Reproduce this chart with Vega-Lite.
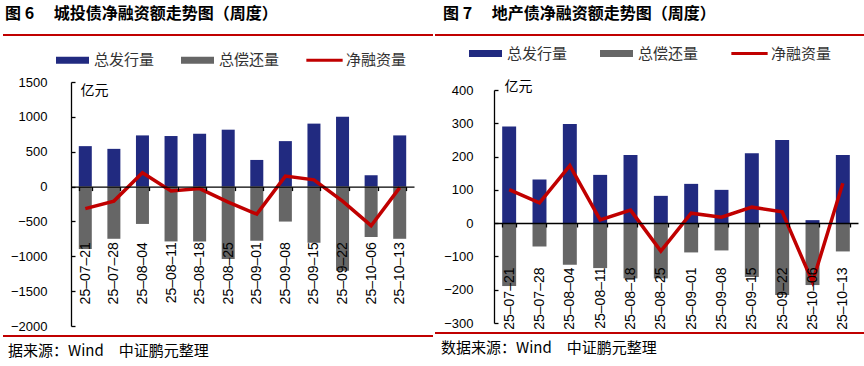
{
  "$schema": "https://vega.github.io/schema/vega-lite/v6.json",
  "padding": {"left": 2, "top": 6, "right": 2, "bottom": 0},
  "background": "#ffffff",
  "config": {
    "view": {"stroke": null},
    "font": "Liberation Sans",
    "axis": {"grid": false, "domainColor": "#000000", "tickColor": "#000000", "labelColor": "#000000", "domainWidth": 1.3, "tickWidth": 1.3},
    "axisY": {"labelOverlap": false, "labelBound": false, "labelFontSize": 13, "ticks": true, "tickSize": -4}
  },
  "spacing": 0,
  "resolve": {"scale": {"x": "independent", "y": "independent", "color": "independent"}, "legend": {"color": "independent"}},
  "hconcat": [
    {
      "spacing": 7,
      "resolve": {"scale": {"x": "independent", "y": "independent", "color": "independent"}, "legend": {"color": "independent"}},
      "vconcat": [
        {
          "width": 430, "height": 1,
          "data": {"values": [{}]},
          "title": {"text": "图 6\u3000 城投债净融资额走势图（周度）", "anchor": "start", "font": "Noto Sans CJK SC", "fontSize": 16, "fontWeight": "bold", "color": "#000000", "offset": 12, "dx": 3},
          "mark": {"type": "rule", "color": "#C00000", "strokeWidth": 2},
          "encoding": {"y": {"datum": 0, "type": "quantitative", "scale": {"domain": [0, 1]}, "axis": null}}
        },
        {
          "spacing": 2,
          "resolve": {"scale": {"x": "independent", "y": "independent", "color": "independent"}, "legend": {"color": "independent"}},
          "vconcat": [
            {
              "spacing": 0,
              "resolve": {"scale": {"x": "independent", "y": "independent", "color": "independent"}, "legend": {"color": "independent"}},
              "hconcat": [
                {
                  "width": 7, "height": 1,
                  "data": {"values": []},
                  "mark": "rule",
                  "encoding": {}
                },
                {
                  "width": 343, "height": 244,
                  "data": {"values": [
                    {"date": "25–07–21", "issue": 580, "repay": -896, "net": -316},
                    {"date": "25–07–28", "issue": 541, "repay": -749, "net": -208},
                    {"date": "25–08–04", "issue": 734, "repay": -536, "net": 198},
                    {"date": "25–08–11", "issue": 725, "repay": -787, "net": -62},
                    {"date": "25–08–18", "issue": 758, "repay": -787, "net": -29},
                    {"date": "25–08–25", "issue": 816, "repay": -1038, "net": -222},
                    {"date": "25–09–01", "issue": 382, "repay": -777, "net": -395},
                    {"date": "25–09–08", "issue": 652, "repay": -502, "net": 150},
                    {"date": "25–09–15", "issue": 903, "repay": -806, "net": 97},
                    {"date": "25–09–22", "issue": 1000, "repay": -1209, "net": -209},
                    {"date": "25–10–06", "issue": 164, "repay": -725, "net": -561},
                    {"date": "25–10–13", "issue": 734, "repay": -749, "net": -15}
                  ]},
                  "encoding": {
                    "x": {"field": "date", "type": "ordinal", "sort": null,
                      "scale": {"paddingInner": 0.545, "paddingOuter": 0.2725},
                      "axis": {"title": null, "offset": -139.4, "zindex": 1, "labelAngle": 270, "labelFontSize": 14, "labelPadding": 51, "tickSize": 4, "tickBand": "extent"}}
                  },
                  "layer": [
                    {
                      "mark": {"type": "bar"},
                      "encoding": {
                        "y": {"field": "issue", "type": "quantitative",
                          "scale": {"domain": [-2000, 1500], "nice": false},
                          "axis": {"values": [-2000, -1500, -1000, -500, 0, 500, 1000, 1500], "format": "d", "labelOverlap": false, "labelPadding": 28,
                            "title": "亿元", "titleAngle": 0, "titleAlign": "left", "titleBaseline": "top", "titleX": 9, "titleY": 1, "titleFont": "Noto Sans CJK SC", "titleFontSize": 14, "titleFontWeight": "normal", "titleColor": "#000000"}},
                        "color": {"datum": "总发行量",
                          "scale": {"domain": ["总发行量", "总偿还量", "净融资量"], "range": ["#212A80", "#666666", "#C00000"]},
                          "legend": {"orient": "none", "legendX": -15, "legendY": -38.5, "direction": "horizontal", "title": null, "padding": 0,
                            "symbolSize": 1089, "symbolStrokeWidth": 0, "labelFont": "Noto Sans CJK SC", "labelFontSize": 15, "labelColor": "#333333", "labelOffset": 5, "columnPadding": 26,
                            "encode": {"symbols": {"update": {"shape": {"signal": "datum.value === '净融资量' ? 'M-1.1,-0.09H1.1V0.09H-1.1Z' : 'M-1,-0.21H1V0.21H-1Z'"}}}}}}
                      }
                    },
                    {
                      "mark": {"type": "bar"},
                      "encoding": {
                        "y": {"field": "repay", "type": "quantitative",
                          "axis": {"values": [-2000, -1500, -1000, -500, 0, 500, 1000, 1500], "format": "d", "labelOverlap": false, "labelPadding": 28,
                            "title": "亿元", "titleAngle": 0, "titleAlign": "left", "titleBaseline": "top", "titleX": 9, "titleY": 1, "titleFont": "Noto Sans CJK SC", "titleFontSize": 14, "titleFontWeight": "normal", "titleColor": "#000000"}},
                        "color": {"datum": "总偿还量"}
                      }
                    },
                    {
                      "mark": {"type": "line", "color": "#C00000", "strokeWidth": 3.5},
                      "encoding": {"y": {"field": "net", "type": "quantitative",
                          "axis": {"values": [-2000, -1500, -1000, -500, 0, 500, 1000, 1500], "format": "d", "labelOverlap": false, "labelPadding": 28,
                            "title": "亿元", "titleAngle": 0, "titleAlign": "left", "titleBaseline": "top", "titleX": 9, "titleY": 1, "titleFont": "Noto Sans CJK SC", "titleFontSize": 14, "titleFontWeight": "normal", "titleColor": "#000000"}}}
                    }
                  ]
                }
              ]
            },
            {
              "width": 430, "height": 1,
              "data": {"values": [{}]},
              "title": {"text": "据来源：Wind\u3000中证鹏元整理", "orient": "bottom", "anchor": "start", "font": "Noto Sans CJK SC", "fontSize": 15, "fontWeight": "normal", "color": "#000000", "offset": 7, "dx": 6},
              "mark": {"type": "rule", "color": "#C00000", "strokeWidth": 2},
              "encoding": {"y": {"datum": 1, "type": "quantitative", "scale": {"domain": [0, 1]}, "axis": null}}
            }
          ]
        }
      ]
    },
    {
      "spacing": 0,
      "resolve": {"scale": {"x": "independent", "y": "independent", "color": "independent"}, "legend": {"color": "independent"}},
      "vconcat": [
        {
          "width": 430, "height": 1,
          "data": {"values": [{}]},
          "title": {"text": "图 7\u3000 地产债净融资额走势图（周度）", "anchor": "start", "font": "Noto Sans CJK SC", "fontSize": 16, "fontWeight": "bold", "color": "#000000", "offset": 12, "dx": 9},
          "mark": {"type": "rule", "color": "#C00000", "strokeWidth": 2},
          "encoding": {"y": {"datum": 0, "type": "quantitative", "scale": {"domain": [0, 1]}, "axis": null}}
        },
        {
          "spacing": 2,
          "resolve": {"scale": {"x": "independent", "y": "independent", "color": "independent"}, "legend": {"color": "independent"}},
          "vconcat": [
            {
              "spacing": 0,
              "resolve": {"scale": {"x": "independent", "y": "independent", "color": "independent"}, "legend": {"color": "independent"}},
              "hconcat": [
                {
                  "width": 8, "height": 1,
                  "data": {"values": []},
                  "mark": "rule",
                  "encoding": {}
                },
                {
                  "width": 364, "height": 233,
                  "data": {"values": [
                    {"date": "25–07–21", "issue": 290, "repay": -189, "net": 101},
                    {"date": "25–07–28", "issue": 131, "repay": -70, "net": 61},
                    {"date": "25–08–04", "issue": 298, "repay": -125, "net": 173},
                    {"date": "25–08–11", "issue": 145, "repay": -135, "net": 10},
                    {"date": "25–08–18", "issue": 205, "repay": -166, "net": 39},
                    {"date": "25–08–25", "issue": 82, "repay": -166, "net": -84},
                    {"date": "25–09–01", "issue": 118, "repay": -88, "net": 30},
                    {"date": "25–09–08", "issue": 100, "repay": -82, "net": 18},
                    {"date": "25–09–15", "issue": 210, "repay": -162, "net": 48},
                    {"date": "25–09–22", "issue": 250, "repay": -216, "net": 34},
                    {"date": "25–10–06", "issue": 9, "repay": -186, "net": -177},
                    {"date": "25–10–13", "issue": 205, "repay": -85, "net": 120}
                  ]},
                  "encoding": {
                    "x": {"field": "date", "type": "ordinal", "sort": null,
                      "scale": {"paddingInner": 0.54, "paddingOuter": 0.27},
                      "axis": {"title": null, "offset": -100, "zindex": 1, "labelAngle": 270, "labelFontSize": 14, "labelPadding": 40, "tickSize": 4, "tickBand": "extent"}}
                  },
                  "layer": [
                    {
                      "mark": {"type": "bar"},
                      "encoding": {
                        "y": {"field": "issue", "type": "quantitative",
                          "scale": {"domain": [-300, 400], "nice": false},
                          "axis": {"values": [-300, -200, -100, 0, 100, 200, 300, 400], "format": "d", "labelOverlap": false, "labelPadding": 25,
                            "title": "亿元", "titleAngle": 0, "titleAlign": "left", "titleBaseline": "top", "titleX": 10, "titleY": -11, "titleFont": "Noto Sans CJK SC", "titleFontSize": 14, "titleFontWeight": "normal", "titleColor": "#000000"}},
                        "color": {"datum": "总发行量",
                          "scale": {"domain": ["总发行量", "总偿还量", "净融资量"], "range": ["#212A80", "#666666", "#C00000"]},
                          "legend": {"orient": "none", "legendX": -25, "legendY": -53.2, "direction": "horizontal", "title": null, "padding": 0,
                            "symbolSize": 1089, "symbolStrokeWidth": 0, "labelFont": "Noto Sans CJK SC", "labelFontSize": 15, "labelColor": "#333333", "labelOffset": 5, "columnPadding": 32,
                            "encode": {"symbols": {"update": {"shape": {"signal": "datum.value === '净融资量' ? 'M-1.1,-0.09H1.1V0.09H-1.1Z' : 'M-1,-0.21H1V0.21H-1Z'"}}}}}}
                      }
                    },
                    {
                      "mark": {"type": "bar"},
                      "encoding": {
                        "y": {"field": "repay", "type": "quantitative",
                          "axis": {"values": [-300, -200, -100, 0, 100, 200, 300, 400], "format": "d", "labelOverlap": false, "labelPadding": 25,
                            "title": "亿元", "titleAngle": 0, "titleAlign": "left", "titleBaseline": "top", "titleX": 10, "titleY": -11, "titleFont": "Noto Sans CJK SC", "titleFontSize": 14, "titleFontWeight": "normal", "titleColor": "#000000"}},
                        "color": {"datum": "总偿还量"}
                      }
                    },
                    {
                      "mark": {"type": "line", "color": "#C00000", "strokeWidth": 3.5},
                      "encoding": {"y": {"field": "net", "type": "quantitative",
                          "axis": {"values": [-300, -200, -100, 0, 100, 200, 300, 400], "format": "d", "labelOverlap": false, "labelPadding": 25,
                            "title": "亿元", "titleAngle": 0, "titleAlign": "left", "titleBaseline": "top", "titleX": 10, "titleY": -11, "titleFont": "Noto Sans CJK SC", "titleFontSize": 14, "titleFontWeight": "normal", "titleColor": "#000000"}}}
                    }
                  ]
                }
              ]
            },
            {
              "width": 430, "height": 1,
              "data": {"values": [{}]},
              "title": {"text": "数据来源：Wind\u3000中证鹏元整理", "orient": "bottom", "anchor": "start", "font": "Noto Sans CJK SC", "fontSize": 15, "fontWeight": "normal", "color": "#000000", "offset": 7, "dx": 7},
              "mark": {"type": "rule", "color": "#C00000", "strokeWidth": 2},
              "encoding": {"y": {"datum": 1, "type": "quantitative", "scale": {"domain": [0, 1]}, "axis": null}}
            }
          ]
        }
      ]
    }
  ]
}
